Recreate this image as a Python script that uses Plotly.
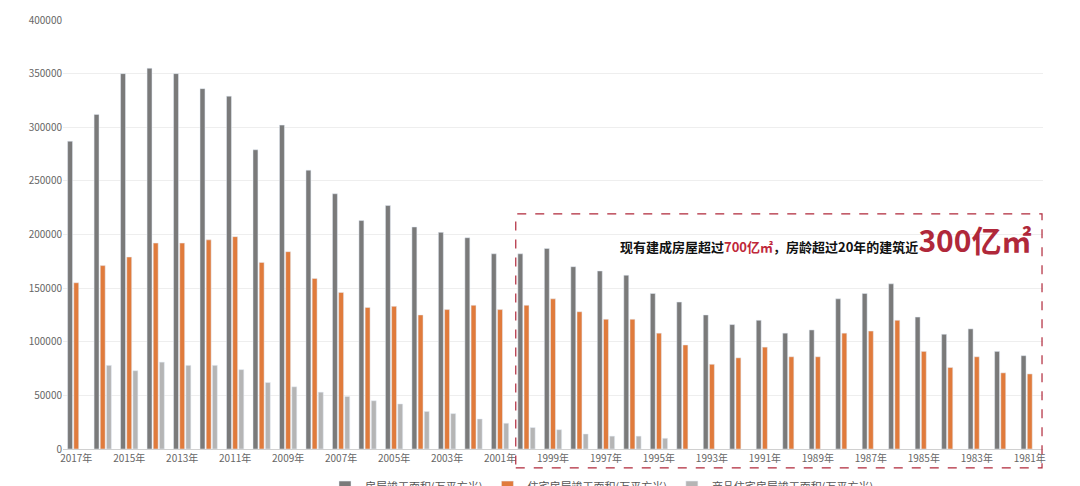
import plotly.graph_objects as go

years = [f"{y}年" for y in range(2017, 1980, -1)]
tick_labels = [f"{y}年" for y in range(2017, 1980, -2)]

total_area = [287000, 312000, 350000, 355000, 350000, 336000, 329000, 279000, 302000, 260000,
              238000, 213000, 227000, 207000, 202000, 197000, 182000, 182000, 187000, 170000,
              166000, 162000, 145000, 137000, 125000, 116000, 120000, 108000, 111000, 140000,
              145000, 154000, 123000, 107000, 112000, 91000, 87000]
residential_area = [155000, 171000, 179000, 192000, 192000, 195000, 198000, 174000, 184000, 159000,
                    146000, 132000, 133000, 125000, 130000, 134000, 130000, 134000, 140000, 128000,
                    121000, 121000, 108000, 97000, 79000, 85000, 95000, 86000, 86000, 108000,
                    110000, 120000, 91000, 76000, 86000, 71000, 70000]
commodity_area = [None, 78000, 73000, 81000, 78000, 78000, 74000, 62000, 58000, 53000,
                  49000, 45000, 42000, 35000, 33000, 28000, 24000, 20000, 18000, 14000,
                  12000, 12000, 10000] + [None] * 14

FONT = "Noto Sans CJK SC"

fig = go.Figure()
fig.add_bar(x=years, y=total_area, name="房屋竣工面积(万平方米)", marker_color="#7a7a7a")
fig.add_bar(x=years, y=residential_area, name="住宅房屋竣工面积(万平方米)", marker_color="#e07b3c")
fig.add_bar(x=years, y=commodity_area, name="商品住宅房屋竣工面积(万平方米)", marker_color="#b5b5b5")

fig.update_layout(
    width=1080, height=486,
    margin=dict(l=55, r=45, t=12, b=45, autoexpand=False),
    paper_bgcolor="white", plot_bgcolor="white",
    font=dict(family=FONT, size=10, color="#666"),
    barmode="group", bargap=0.3, bargroupgap=0.2,
    legend=dict(orientation="h", x=0.55, xanchor="center", y=-0.055, yanchor="top",
                font=dict(size=11, color="#555"), itemwidth=30),
    xaxis=dict(type="category", tickmode="array", tickvals=tick_labels, ticktext=tick_labels,
               showline=True, linecolor="#d0d0d0", tickangle=0, tickfont=dict(size=10),
               automargin=False),
    yaxis=dict(range=[0, 400000], dtick=50000, tickformat="d", gridcolor="#eeeeee",
               zeroline=False, tickfont=dict(size=10), automargin=False),
    shapes=[dict(type="rect", xref="paper", yref="paper", x0=0.462, x1=0.999, y0=-0.044, y1=0.548,
                 line=dict(color="#b0283a", width=1.2, dash="dash"))],
    annotations=[dict(
        xref="paper", yref="paper", x=0.99, xanchor="right", y=0.49, showarrow=False,
        text=("<b>现有建成房屋超过<span style='color:#c0283a'>700亿㎡</span>，房龄超过20年的建筑近"
              "<span style='font-size:30px;color:#b0283a'>300亿㎡</span></b>"),
        font=dict(family=FONT, size=13, color="#111"),
    )],
)

fig.write_html("out.html")
